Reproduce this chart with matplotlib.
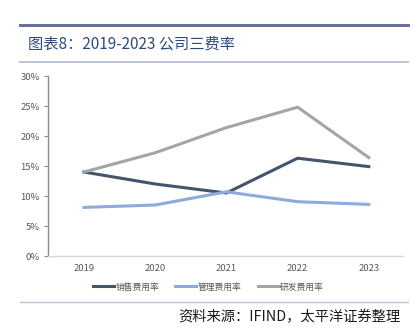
import matplotlib
matplotlib.use("Agg")
import matplotlib.pyplot as plt
from matplotlib.lines import Line2D

plt.rcParams['font.family'] = ['Noto Sans CJK SC', 'DejaVu Sans']

# 数据
years = ['2019', '2020', '2021', '2022', '2023']
sales_rate = [14.0, 12.0, 10.5, 16.3, 14.9]   # 销售费用率 %
admin_rate = [8.1, 8.5, 10.7, 9.05, 8.6]      # 管理费用率 %
rd_rate = [14.0, 17.2, 21.4, 24.8, 16.4]      # 研发费用率 %
yticks = [0, 5, 10, 15, 20, 25, 30]

fig = plt.figure(figsize=(4.17, 3.32), dpi=100)

# 标题和分隔线
fig.add_artist(Line2D([0.048, 0.978], [1 - 24.5/332, 1 - 24.5/332], color='#6b6f9c', lw=2.2))
fig.text(0.068, 1 - 44/332, '图表8：2019-2023 公司三费率', fontsize=11, color='#2e4a7c',
         va='center', ha='left', fontweight='medium')
fig.add_artist(Line2D([0.048, 0.978], [1 - 61.5/332, 1 - 61.5/332], color='#bfc0dc', lw=1.4))

ax = fig.add_axes([48/417, 1 - 256/332, (403 - 48)/417, 180/332])
x = range(len(years))
ax.plot(x, sales_rate, color='#44546a', lw=2.2, label='销售费用率')
ax.plot(x, admin_rate, color='#8faadc', lw=2.2, label='管理费用率')
ax.plot(x, rd_rate, color='#a5a5a5', lw=2.2, label='研发费用率')

ax.set_xlim(-0.505, 4.48)
ax.set_ylim(0, 30)
ax.set_xticks(list(x))
ax.set_xticklabels(years)
ax.set_yticks(yticks)
ax.set_yticklabels([f'{v}%' for v in yticks])
ax.tick_params(axis='y', length=3, width=0.8, color='#8c8c8c', labelsize=6.8, labelcolor='#595959', pad=3)
ax.tick_params(axis='x', length=0, labelsize=6.8, labelcolor='#595959', pad=6)
for s in ['top', 'right']:
    ax.spines[s].set_visible(False)
ax.spines['left'].set_color('#8c8c8c')
ax.spines['left'].set_linewidth(1.0)
ax.spines['bottom'].set_color('#d9d9d9')
ax.spines['bottom'].set_linewidth(1.0)

fig.legend(loc='center', bbox_to_anchor=(0.5, 1 - 287/332), ncol=3, frameon=False,
           fontsize=6.3, labelcolor='#595959', handlelength=2.4, handletextpad=0.2,
           columnspacing=1.8)

fig.add_artist(Line2D([0.048, 0.978], [1 - 302/332, 1 - 302/332], color='#bfc0dc', lw=1.0))
fig.text(0.96, 1 - 317/332, '资料来源：IFIND，太平洋证券整理', fontsize=10.3, color='#1a1a1a',
         ha='right', va='center', style='italic')

fig.savefig('out.png', dpi=100)
